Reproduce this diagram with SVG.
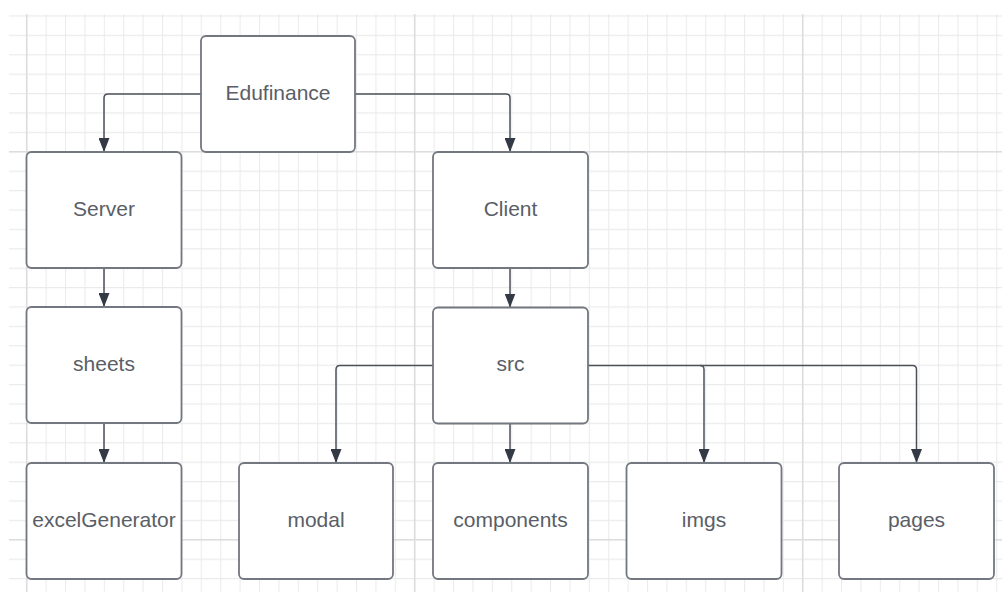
<svg xmlns="http://www.w3.org/2000/svg" width="1002" height="592" viewBox="0 0 1002 592">
  <defs>
    <pattern id="grid" patternUnits="userSpaceOnUse" x="26.2" y="151.2" width="19.4" height="19.4">
      <path d="M0.5 0 V19.4 M0 0.5 H19.4" stroke="#ebebeb" stroke-width="1.2" fill="none"/>
    </pattern>
    <marker id="arr" markerUnits="userSpaceOnUse" markerWidth="14" markerHeight="11" refX="14" refY="5.5" orient="auto">
      <path d="M0 0 L14 5.5 L0 11 z" fill="#343a45"/>
    </marker>
    <style>
      .box { fill: #ffffff; stroke: #73777f; stroke-width: 1.8; }
      .lbl { font-family: "Liberation Sans", Arial, sans-serif; font-size: 21px; fill: #5a5e66; text-anchor: middle; }
      .con { fill: none; stroke: #4b5059; stroke-width: 1.5; marker-end: url(#arr); }
      .major { stroke: #dddddd; stroke-width: 1.6; }
    </style>
  </defs>
  <rect width="1002" height="592" fill="#ffffff"/>
  <g id="grid-bg">
    <rect x="9" y="14" width="993" height="578" fill="url(#grid)"/>
    <path class="major" d="M26.7 14 V592 M414.7 14 V592 M802.7 14 V592 M9 151.7 H1002 M9 539.7 H1002"/>
  </g>
  <g id="connectors">
    <path class="con" d="M201 94 H108 Q104 94 104 98 V152"/>
    <path class="con" d="M355 94 H506 Q510 94 510 98 V152"/>
    <path class="con" d="M104 268 V307"/>
    <path class="con" d="M104 423 V463"/>
    <path class="con" d="M510 268 V307.5"/>
    <path class="con" d="M510 423.5 V463"/>
    <path class="con" d="M433 365.5 H340 Q336 365.5 336 369.5 V463"/>
    <path class="con" d="M588 365.5 H700 Q704 365.5 704 369.5 V463"/>
    <path class="con" d="M700 365.5 H912.5 Q916.5 365.5 916.5 369.5 V463"/>
  </g>
  <g id="edufinance"><rect class="box" x="201" y="36" width="154" height="116" rx="5"/><text class="lbl" x="278" y="99.5">Edufinance</text></g>
  <g id="server"><rect class="box" x="26.5" y="152" width="155" height="116" rx="5"/><text class="lbl" x="104" y="215.5">Server</text></g>
  <g id="client"><rect class="box" x="433" y="152" width="155" height="116" rx="5"/><text class="lbl" x="510.5" y="215.5">Client</text></g>
  <g id="sheets"><rect class="box" x="26.5" y="307" width="155" height="116" rx="5"/><text class="lbl" x="104" y="370.5">sheets</text></g>
  <g id="src"><rect class="box" x="433" y="307.5" width="155" height="116" rx="5"/><text class="lbl" x="510.5" y="371">src</text></g>
  <g id="excelgenerator"><rect class="box" x="26.5" y="463" width="155" height="116" rx="5"/><text class="lbl" x="104" y="526.5">excelGenerator</text></g>
  <g id="modal"><rect class="box" x="239" y="463" width="154" height="116" rx="5"/><text class="lbl" x="316" y="526.5">modal</text></g>
  <g id="components"><rect class="box" x="433" y="463" width="155" height="116" rx="5"/><text class="lbl" x="510.5" y="526.5">components</text></g>
  <g id="imgs"><rect class="box" x="626.5" y="463" width="155" height="116" rx="5"/><text class="lbl" x="704" y="526.5">imgs</text></g>
  <g id="pages"><rect class="box" x="839" y="463" width="155" height="116" rx="5"/><text class="lbl" x="916.5" y="526.5">pages</text></g>
</svg>
